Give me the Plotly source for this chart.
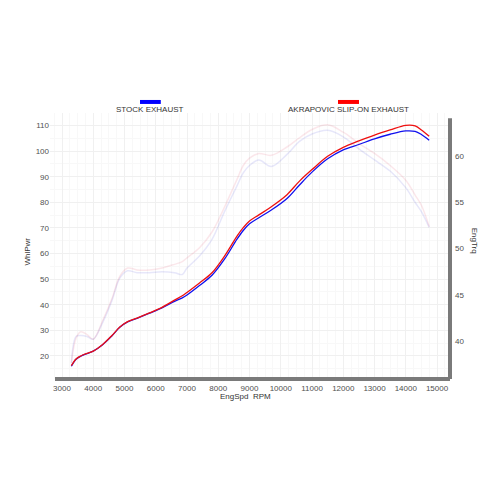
import plotly.graph_objects as go

# dyno sweep, engine speed in RPM
rpm = [3300, 3450, 3600, 3800, 4000, 4300, 4600, 4850, 5100, 5400, 5800, 6200,
       6600, 6850, 7000, 7400, 7800, 8200, 8600, 8800, 9000, 9300, 9700, 10200,
       10600, 11000, 11500, 12000, 12500, 13000, 13500, 14000, 14300, 14500, 14750]

# wheel power
pwr_stock = [16.0, 18.7, 19.9, 20.9, 21.9, 24.4, 27.9, 31.2, 33.3, 34.7, 36.7, 38.8,
             41.3, 42.7, 43.8, 47.5, 51.5, 57.8, 65.6, 69.0, 71.6, 74.0, 77.0, 81.5,
             86.8, 91.8, 97.0, 100.5, 102.6, 104.8, 106.6, 107.9, 107.7, 106.5, 104.3]
pwr_akra = [16.2, 18.8, 20.0, 21.0, 21.9, 24.5, 28.0, 31.3, 33.4, 34.8, 36.8, 39.0,
            41.8, 43.5, 44.8, 48.5, 52.5, 59.0, 66.8, 70.1, 72.7, 75.1, 78.3, 83.0,
            88.3, 92.8, 98.0, 101.5, 104.0, 106.3, 108.3, 110.1, 109.9, 108.3, 105.8]

# engine torque
trq_stock = [37.6, 40.5, 40.6, 40.5, 40.2, 42.0, 44.4, 46.8, 47.6, 47.4, 47.4, 47.5,
             47.4, 47.2, 47.9, 49.2, 51.0, 54.0, 56.8, 58.2, 59.0, 59.6, 58.9, 60.2,
             61.6, 62.4, 62.8, 62.1, 60.8, 59.6, 58.4, 56.6, 55.0, 54.0, 52.3]
trq_akra = [37.6, 40.3, 41.0, 40.7, 40.2, 42.2, 44.6, 47.0, 47.9, 47.7, 47.7, 47.9,
            48.3, 48.6, 49.0, 50.1, 51.8, 54.5, 57.5, 59.0, 59.8, 60.3, 60.1, 61.0,
            62.0, 62.9, 63.4, 62.6, 61.4, 60.3, 59.0, 57.4, 55.8, 54.7, 52.4]

x_ticks = list(range(3000, 15001, 1000))
pwr_ticks = list(range(20, 111, 10))
trq_ticks = [40, 45, 50, 55, 60]

FONT = 'Liberation Sans'
GRAY = '#505050'
TXT = dict(size=8, color='#333333')

fig = go.Figure()

# faint torque curves (right axis)
fig.add_trace(go.Scatter(x=rpm, y=trq_stock, yaxis='y2', mode='lines',
                         line=dict(color='rgba(60,60,210,0.12)', width=1.5, shape='spline')))
fig.add_trace(go.Scatter(x=rpm, y=trq_akra, yaxis='y2', mode='lines',
                         line=dict(color='rgba(220,60,90,0.12)', width=1.5, shape='spline')))

# power curves (left axis)
fig.add_trace(go.Scatter(x=rpm, y=pwr_stock, mode='lines',
                         line=dict(color='#1010ee', width=1.3, shape='spline')))
fig.add_trace(go.Scatter(x=rpm, y=pwr_akra, mode='lines',
                         line=dict(color='#ee1010', width=1.3, shape='spline')))

# the page body adds an 8px margin, so the figure is shrunk by that much
fig.update_layout(
    width=492, height=492,
    showlegend=False,
    paper_bgcolor='white',
    plot_bgcolor='white',
    margin=dict(l=42, r=50, t=105, b=121, autoexpand=False),
    font=dict(family=FONT, size=8, color=GRAY),
    xaxis=dict(
        range=[2616, 15416], tickvals=x_ticks, tickformat='d', showline=False, zeroline=False,
        showgrid=True, gridcolor='#f0f0f0', gridwidth=1, automargin=False,
        minor=dict(dtick=250, showgrid=True, gridcolor='#f8f8f8'),
        ticks='', ticklabelstandoff=3, tickfont=dict(size=8, color=GRAY),
    ),
    yaxis=dict(
        range=[11.0, 114.9], tickvals=pwr_ticks, showline=False, zeroline=False,
        showgrid=True, gridcolor='#f0f0f0', gridwidth=1, automargin=False,
        minor=dict(dtick=5, showgrid=True, gridcolor='#f8f8f8'),
        ticks='', tickfont=dict(size=8, color=GRAY),
    ),
    yaxis2=dict(
        range=[35.89, 64.68], tickvals=trq_ticks, overlaying='y', side='right',
        showgrid=False, zeroline=False, showline=False, ticks='', automargin=False,
        ticklabelstandoff=4, tickfont=dict(size=8, color=GRAY),
    ),
)

# thick gray axis bars
fig.add_shape(type='line', xref='paper', yref='paper', x0=0.0125, x1=1.0, y0=0, y1=0,
              line=dict(color='#7a7a7a', width=4))
fig.add_shape(type='line', xref='paper', yref='paper', x0=1.0, x1=1.0, y0=0, y1=0.98,
              line=dict(color='#7a7a7a', width=4))

# legend bars and labels
fig.add_shape(type='rect', xref='paper', yref='paper', x0=0.225, x1=0.277, y0=1.034, y1=1.049,
              fillcolor='#0000ff', line=dict(width=0))
fig.add_shape(type='rect', xref='paper', yref='paper', x0=0.72, x1=0.7725, y0=1.034, y1=1.049,
              fillcolor='#ff0000', line=dict(width=0))
fig.add_annotation(text='STOCK EXHAUST', xref='paper', yref='paper', x=0.25, y=1.013,
                   xanchor='center', yanchor='middle', showarrow=False, font=TXT)
fig.add_annotation(text='AKRAPOVIC SLIP-ON EXHAUST', xref='paper', yref='paper', x=0.745, y=1.013,
                   xanchor='center', yanchor='middle', showarrow=False, font=TXT)

# axis titles
fig.add_annotation(text='EngSpd  RPM', xref='paper', yref='paper', x=0.4875, y=-0.066,
                   xanchor='center', yanchor='middle', showarrow=False, font=TXT)
fig.add_annotation(text='WhlPwr', xref='paper', yref='paper', x=-0.057, y=0.48,
                   xanchor='center', yanchor='middle', showarrow=False, textangle=-90, font=TXT)
fig.add_annotation(text='EngTrq', xref='paper', yref='paper', x=1.06, y=0.52,
                   xanchor='center', yanchor='middle', showarrow=False, textangle=90, font=TXT)

fig.write_html("out.html")
